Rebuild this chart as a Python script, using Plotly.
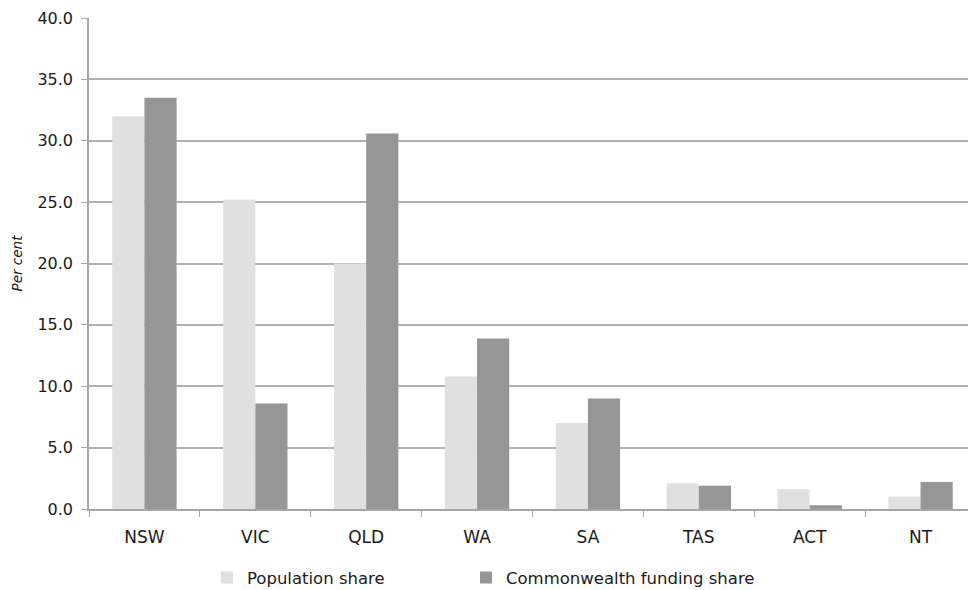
import plotly.graph_objects as go

states = ["NSW", "VIC", "QLD", "WA", "SA", "TAS", "ACT", "NT"]
population_share = [32.0, 25.2, 20.0, 10.8, 7.0, 2.1, 1.6, 1.0]
funding_share = [33.5, 8.6, 30.6, 13.9, 9.0, 1.9, 0.3, 2.2]
y_ticks = [0, 5, 10, 15, 20, 25, 30, 35, 40]

FONT = "DejaVu Sans, Open Sans, sans-serif"

fig = go.Figure()
fig.add_trace(go.Bar(x=states, y=population_share, name="Population share",
                     marker=dict(color="#e0e0e0", line=dict(width=0)),
                     legend="legend"))
fig.add_trace(go.Bar(x=states, y=funding_share, name="Commonwealth funding share",
                     marker=dict(color="#969696", line=dict(width=0)),
                     legend="legend2"))

legend_common = dict(orientation="h", xanchor="left",
                     yref="container", y=0.021, yanchor="middle",
                     font=dict(size=16.5, color="#1a1a1a"),
                     itemwidth=30, bgcolor="rgba(0,0,0,0)")

fig.update_layout(
    width=968, height=582,
    margin=dict(l=81, r=0, t=10, b=81, autoexpand=False),
    paper_bgcolor="white", plot_bgcolor="white",
    barmode="group", bargap=0.42, bargroupgap=0,
    font=dict(family=FONT, size=14, color="#1a1a1a"),
    showlegend=True,
    legend=dict(x=0.133, **legend_common),
    legend2=dict(x=0.425, **legend_common),
    xaxis=dict(showline=True, linecolor="#a6a6a6", linewidth=1.5,
               showgrid=False, tickfont=dict(size=17), automargin=False,
               ticks="outside", ticklen=6, tickcolor="#a6a6a6",
               tickson="boundaries", ticklabelstandoff=12),
    yaxis=dict(range=[0, 40], tickvals=y_ticks,
               ticktext=[f"{v:.1f}" for v in y_ticks],
               showgrid=True, gridcolor="#b0b0b0", gridwidth=1.5,
               showline=True, linecolor="#a6a6a6", linewidth=1.5,
               ticks="outside", ticklen=6, tickcolor="#a6a6a6",
               tickfont=dict(size=16), zeroline=False, automargin=False,
               ticklabelstandoff=5,
               title=dict(text="<i>Per cent</i>", font=dict(size=13.5), standoff=12)),
)

fig.write_html("out.html")
